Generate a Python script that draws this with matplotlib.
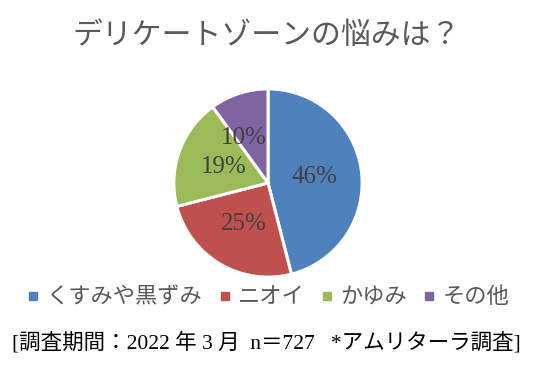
import matplotlib.pyplot as plt
from matplotlib.lines import Line2D

plt.rcParams['font.family'] = ['Liberation Serif', 'Noto Sans CJK JP', 'DejaVu Sans']

categories = ["くすみや黒ずみ", "ニオイ", "かゆみ", "その他"]
shares = [46, 25, 19, 10]
colors = ["#4F81BD", "#C0504D", "#9BBB59", "#8064A2"]
title = "デリケートゾーンの悩みは？"
note = "[調査期間：2022 年 3 月  n＝727   *アムリターラ調査]"

W, H = 539, 365
fig = plt.figure(figsize=(W / 100, H / 100), dpi=100)

cx, cy, r = 268, 183, 96
ax = fig.add_axes([(cx - r) / W, 1 - (cy + r) / H, 2 * r / W, 2 * r / H])
wedges, texts, autotexts = ax.pie(
    shares, colors=colors, startangle=90, counterclock=False,
    autopct="%d%%", pctdistance=0.5,
    wedgeprops=dict(edgecolor="white", linewidth=2.2),
    textprops=dict(color="#404040", fontsize=18))
# the small slice label sits a bit left of centre in the source
autotexts[3].set_position((autotexts[3].get_position()[0] - 0.1,
                           autotexts[3].get_position()[1] - 0.0))
ax.set_aspect("equal")
ax.set_xlim(-1.02, 1.02)
ax.set_ylim(-1.02, 1.02)

fig.text(0.495, 1 - 36 / H, title, ha="center", va="center",
         fontsize=21.5, color="#595959")

handles = [Line2D([], [], marker="s", linestyle="", markersize=5.5,
                  markerfacecolor=c, markeredgecolor=c) for c in colors]
fig.legend(handles, categories, loc="center", ncol=4,
           bbox_to_anchor=(0.497, 1 - 298 / H), frameon=False,
           fontsize=16, labelcolor="#595959", handlelength=0.6,
           handletextpad=0.3, columnspacing=0.7)

fig.text(0.495, 1 - 343 / H, note, ha="center", va="center",
         fontsize=15.5, color="#000000")

fig.savefig("out.png", dpi=100)
